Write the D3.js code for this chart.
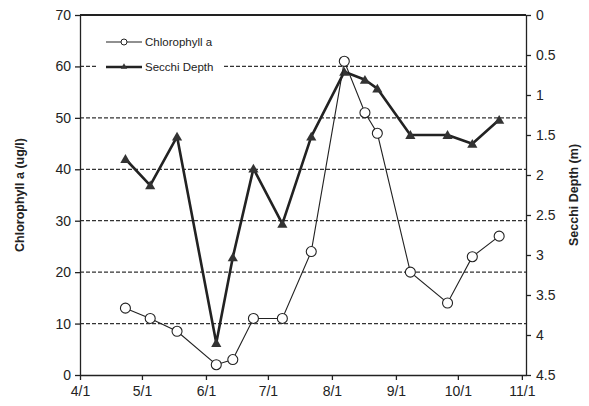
<!DOCTYPE html>
<html>
<head>
<meta charset="utf-8">
<script src="https://cdn.jsdelivr.net/npm/d3@7"></script>
<style>
  body { margin: 0; background: #fff; }
  text { font-family: "Liberation Sans", Arial, sans-serif; fill: #222; }
  .grid line { stroke: #333; stroke-dasharray: 4,2; stroke-width: 1.2; }
  .axis path, .axis line { stroke: #222; stroke-width: 1.3; }
  .axis text { font-size: 14px; }
  .ttl { font-size: 12.5px; font-weight: bold; }
</style>
</head>
<body>
<svg id="chart"></svg>
<script>
// sampling dates (month/day)
var dates = ["4/23","5/5","5/18","6/6","6/14","6/24","7/8","7/22","8/7","8/17","8/23","9/8","9/26","10/8","10/21"];
// chlorophyll a (ug/l)
var chl = [13, 11, 8.5, 2, 3, 11, 11, 24, 61, 51, 47, 20, 14, 23, 27];
// secchi depth (m)
var secchi = [1.8, 2.13, 1.52, 4.1, 3.03, 1.92, 2.61, 1.52, 0.71, 0.81, 0.92, 1.5, 1.5, 1.61, 1.31];
var xTicks = ["4/1","5/1","6/1","7/1","8/1","9/1","10/1","11/1"];
var chlTicks = [0, 10, 20, 30, 40, 50, 60, 70];
var secchiTicks = [0, 0.5, 1, 1.5, 2, 2.5, 3, 3.5, 4, 4.5];

var config = {
  w: 589,
  h: 406,
  left: 80,
  right: 526,
  top: 15,
  bottom: 375
};

var parseDate = function(s) {
  var p = s.split("/");
  return new Date(2001, +p[0] - 1, +p[1]);
};

var svg = d3.select("#chart")
  .attr("width", config.w)
  .attr("height", config.h);

var x = d3.scaleTime()
  .domain([parseDate("4/1"), parseDate("11/3")])
  .range([config.left, config.right]);

var yL = d3.scaleLinear().domain([0, 70]).range([config.bottom, config.top]);
var yR = d3.scaleLinear().domain([0, 4.5]).range([config.top, config.bottom]);

// dashed gridlines
svg.append("g")
  .attr("class", "grid")
  .selectAll("line")
  .data(chlTicks.filter(function(d) { return d > 0 && d < 70; }))
  .enter().append("line")
    .attr("x1", config.left)
    .attr("x2", config.right)
    .attr("y1", function(d) { return yL(d); })
    .attr("y2", function(d) { return yL(d); });

// top border
svg.append("line")
  .attr("x1", config.left).attr("x2", config.right)
  .attr("y1", config.top).attr("y2", config.top)
  .attr("stroke", "#222").attr("stroke-width", 2);

// axes
var xAxis = d3.axisBottom(x)
  .tickValues(xTicks.map(parseDate))
  .tickFormat(function(d, i) { return xTicks[i]; })
  .tickSize(5).tickSizeOuter(0).tickPadding(6);

svg.append("g")
  .attr("class", "axis")
  .attr("transform", "translate(0," + config.bottom + ")")
  .call(xAxis)
  .select(".domain").attr("stroke-width", 2);

svg.append("g")
  .attr("class", "axis")
  .attr("transform", "translate(" + config.left + ",0)")
  .call(d3.axisLeft(yL).tickValues(chlTicks).tickSize(5).tickSizeOuter(0).tickPadding(4));

svg.append("g")
  .attr("class", "axis")
  .attr("transform", "translate(" + config.right + ",0)")
  .call(d3.axisRight(yR).tickValues(secchiTicks).tickFormat(d3.format("")).tickSize(5).tickSizeOuter(0).tickPadding(5));

// axis titles
svg.append("text")
  .attr("class", "ttl")
  .attr("transform", "translate(24," + (config.top + config.bottom) / 2 + ") rotate(-90)")
  .attr("text-anchor", "middle")
  .text("Chlorophyll a (ug/l)");

svg.append("text")
  .attr("class", "ttl")
  .attr("transform", "translate(578," + (config.top + config.bottom) / 2 + ") rotate(-90)")
  .attr("text-anchor", "middle")
  .text("Secchi Depth (m)");

var plot = svg.append("g");

var secchiData = dates.map(function(d, i) { return {date: parseDate(d), v: secchi[i]}; });
var chlData = dates.map(function(d, i) { return {date: parseDate(d), v: chl[i]}; });

// secchi line
plot.append("path")
  .datum(secchiData)
  .attr("fill", "none")
  .attr("stroke", "#222")
  .attr("stroke-width", 2.6)
  .attr("stroke-linejoin", "round")
  .attr("d", d3.line()
    .x(function(d) { return x(d.date); })
    .y(function(d) { return yR(d.v); }));

plot.selectAll("path.tri")
  .data(secchiData)
  .enter().append("path")
    .attr("class", "tri")
    .attr("transform", function(d) { return "translate(" + x(d.date) + "," + (yR(d.v) + 1) + ")"; })
    .attr("d", d3.symbol().type(d3.symbolTriangle).size(45))
    .attr("fill", "#333");

// chlorophyll line
plot.append("path")
  .datum(chlData)
  .attr("fill", "none")
  .attr("stroke", "#222")
  .attr("stroke-width", 1.1)
  .attr("d", d3.line()
    .x(function(d) { return x(d.date); })
    .y(function(d) { return yL(d.v); }));

plot.selectAll("circle")
  .data(chlData)
  .enter().append("circle")
    .attr("cx", function(d) { return x(d.date); })
    .attr("cy", function(d) { return yL(d.v); })
    .attr("r", 5)
    .attr("fill", "#fff")
    .attr("stroke", "#222")
    .attr("stroke-width", 1.1);

// legend
var leg = svg.append("g").attr("transform", "translate(98,30)");
leg.append("rect")
  .attr("width", 126).attr("height", 46)
  .attr("fill", "#fff");

var legItems = [
  {name: "Chlorophyll a", y: 12, type: "chl"},
  {name: "Secchi Depth", y: 37, type: "sec"}
];

var li = leg.selectAll("g.item")
  .data(legItems)
  .enter().append("g")
    .attr("class", "item")
    .attr("transform", function(d) { return "translate(0," + d.y + ")"; });

li.append("line")
  .attr("x1", 8).attr("x2", 44)
  .attr("stroke", "#222")
  .attr("stroke-width", function(d) { return d.type == "chl" ? 1.1 : 2.6; });

li.filter(function(d) { return d.type == "chl"; })
  .append("circle")
  .attr("cx", 26).attr("r", 3)
  .attr("fill", "#fff").attr("stroke", "#222");

li.filter(function(d) { return d.type == "sec"; })
  .append("path")
  .attr("transform", "translate(26,0)")
  .attr("d", d3.symbol().type(d3.symbolTriangle).size(18))
  .attr("fill", "#333");

li.append("text")
  .attr("x", 47).attr("dy", "0.35em")
  .style("font-size", "11.5px")
  .text(function(d) { return d.name; });
</script>
</body>
</html>
